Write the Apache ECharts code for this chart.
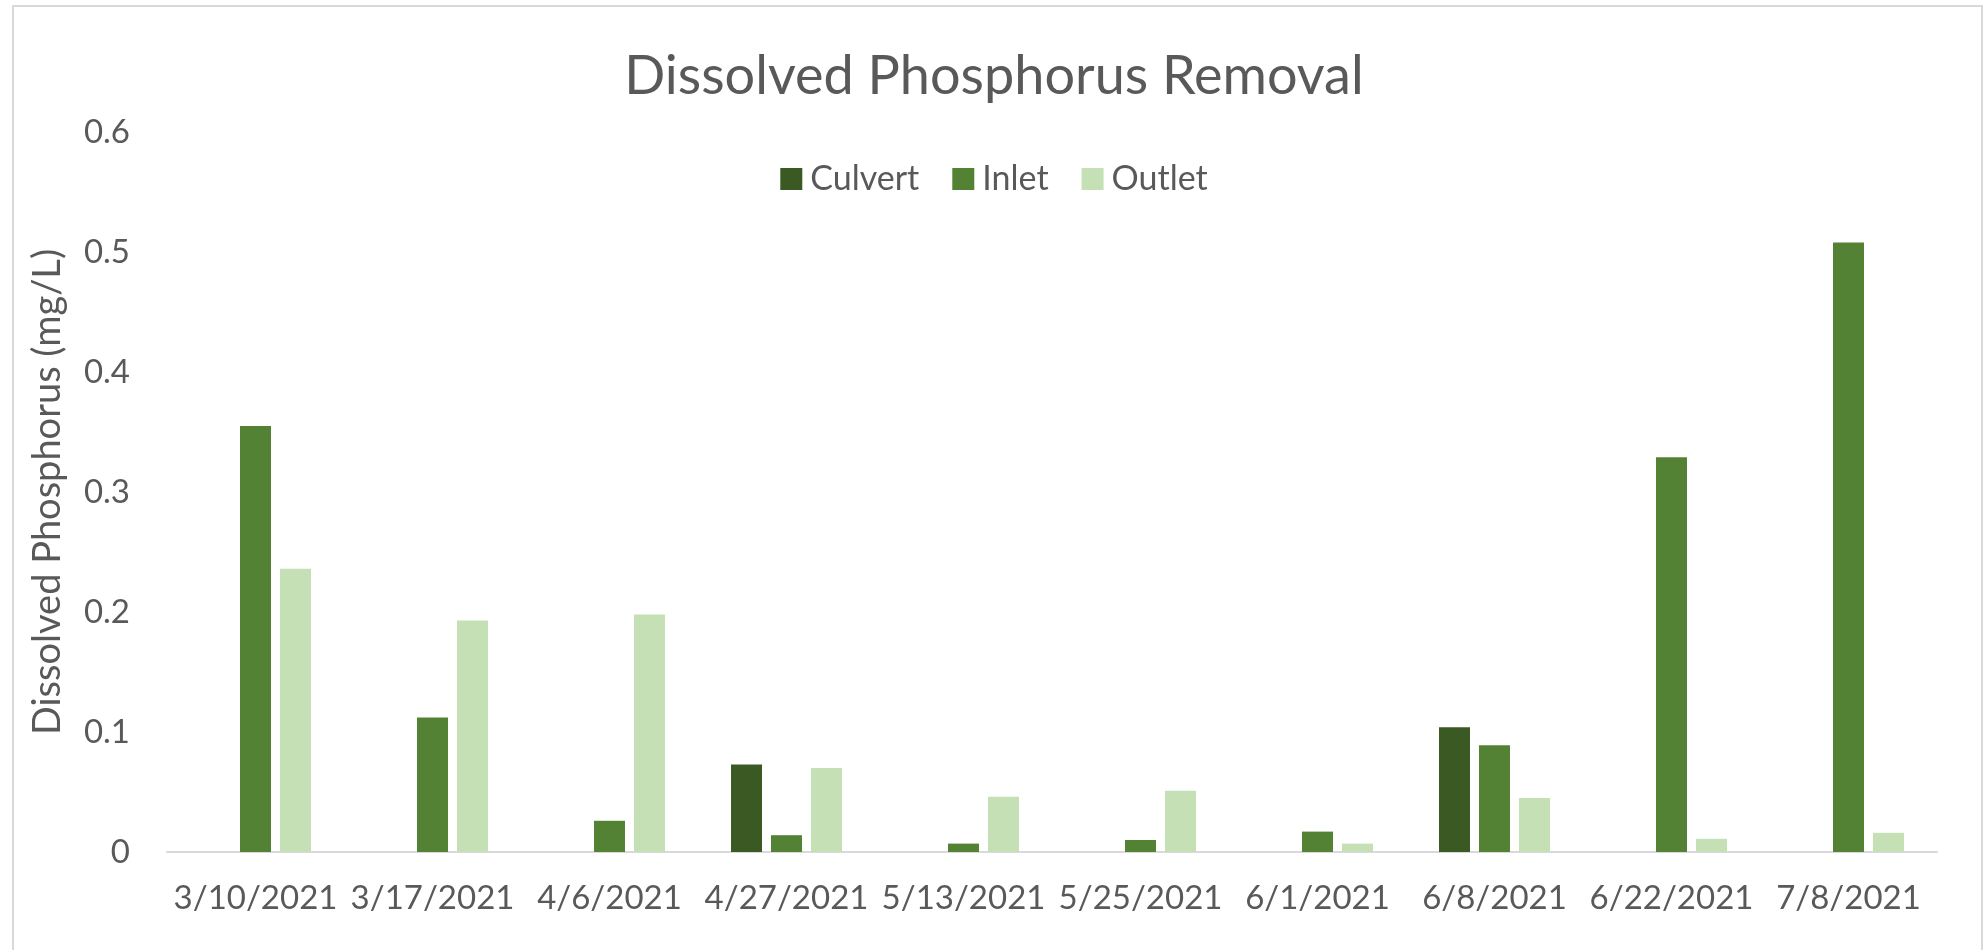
<!DOCTYPE html>
<html>
<head>
<meta charset="utf-8">
<title>Dissolved Phosphorus Removal</title>
<script src="https://cdn.jsdelivr.net/npm/echarts@6/dist/echarts.min.js"></script>
<style>
  html, body { margin: 0; padding: 0; background: #fff; }
  #chart { width: 1988px; height: 950px; }
</style>
</head>
<body>
<div id="chart"></div>
<script>
// sampling dates
const dates = ['3/10/2021', '3/17/2021', '4/6/2021', '4/27/2021', '5/13/2021', '5/25/2021', '6/1/2021', '6/8/2021', '6/22/2021', '7/8/2021']
// dissolved phosphorus, mg/L (null = not sampled)
const culvert = [null, null, null, 0.073, null, null, null, 0.104, null, null]
const inlet = [0.355, 0.112, 0.026, 0.014, 0.007, 0.010, 0.017, 0.089, 0.329, 0.508]
const outlet = [0.236, 0.193, 0.198, 0.070, 0.046, 0.051, 0.007, 0.045, 0.011, 0.016]
const yTicks = [0, 0.1, 0.2, 0.3, 0.4, 0.5, 0.6]

const textColor = '#595959'
const font = 'Lato, "Open Sans", sans-serif'

const chart = echarts.init(document.getElementById('chart'))
const option = {
  backgroundColor: '#fff',
  animation: false,
  textStyle: { fontFamily: font, color: textColor },
  graphic: [{
    // outer chart frame
    type: 'rect',
    shape: { x: 13, y: 6, width: 1969, height: 1000 },
    style: { fill: 'none', stroke: '#d9d9d9', lineWidth: 2 },
    silent: true
  }],
  title: {
    text: 'Dissolved Phosphorus Removal',
    left: 'center',
    top: 45,
    textStyle: { fontFamily: font, fontSize: 54, fontWeight: 'normal', color: textColor }
  },
  legend: {
    data: ['Culvert', 'Inlet', 'Outlet'],
    top: 157,
    left: 'center',
    icon: 'rect',
    itemWidth: 22,
    itemHeight: 22,
    itemGap: 33,
    textStyle: { fontFamily: font, fontSize: 34, color: textColor, padding: [0, 0, 0, 3] }
  },
  grid: { left: 167, right: 51, top: 132, bottom: 98 },
  xAxis: {
    type: 'category',
    data: dates,
    axisLine: { lineStyle: { color: '#d9d9d9', width: 2 } },
    axisTick: { show: false },
    axisLabel: { fontFamily: font, fontSize: 33, color: textColor, margin: 30, interval: 0 }
  },
  yAxis: {
    type: 'value',
    min: yTicks[0],
    max: yTicks[yTicks.length - 1],
    interval: 0.1,
    name: 'Dissolved Phosphorus (mg/L)',
    nameLocation: 'middle',
    nameGap: 100,
    nameTextStyle: { fontFamily: font, fontSize: 38, color: textColor },
    axisLine: { show: false },
    axisTick: { show: false },
    splitLine: { show: false },
    axisLabel: { fontFamily: font, fontSize: 33, color: textColor, margin: 37 }
  },
  series: [
    { name: 'Culvert', type: 'bar', data: culvert, barWidth: 31, barGap: '29%', itemStyle: { color: '#3b5a23' } },
    { name: 'Inlet', type: 'bar', data: inlet, barWidth: 31, barGap: '29%', itemStyle: { color: '#548235' } },
    { name: 'Outlet', type: 'bar', data: outlet, barWidth: 31, barGap: '29%', itemStyle: { color: '#c5e0b4' } }
  ]
}
chart.setOption(option)
</script>
</body>
</html>
